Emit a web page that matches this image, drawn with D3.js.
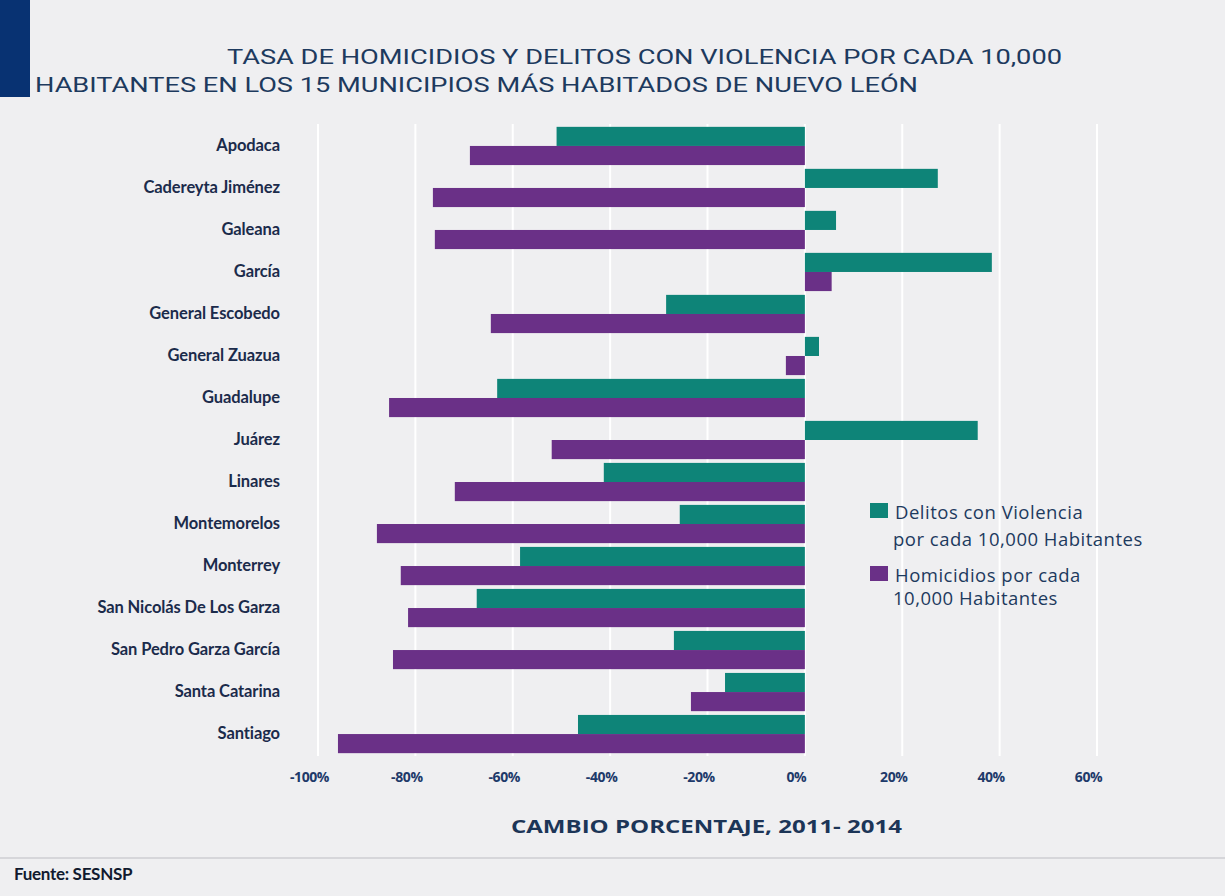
<!DOCTYPE html>
<html><head><meta charset="utf-8">
<script src="https://cdn.jsdelivr.net/npm/d3@7"></script>
<style>
html,body{margin:0;padding:0;background:#efeff1;}
svg{display:block;}
</style></head>
<body>
<svg id="chart" width="1225" height="896"></svg>
<script>
const categories = ["Apodaca","Cadereyta Jiménez","Galeana","García","General Escobedo","General Zuazua","Guadalupe","Juárez","Linares","Montemorelos","Monterrey","San Nicolás De Los Garza","San Pedro Garza García","Santa Catarina","Santiago"];
const delitos = [-51, 27.3, 6.4, 38.4, -28.5, 2.9, -63.2, 35.5, -41.3, -25.7, -58.5, -67.4, -26.9, -16.4, -46.6];
const homicidios = [-68.8, -76.4, -76, 5.5, -64.5, -3.9, -85.4, -52, -71.9, -87.9, -83, -81.5, -84.6, -23.4, -95.9];
const tickValues = [-100, -80, -60, -40, -20, 0, 20, 40, 60];
const titleLines = ["TASA DE HOMICIDIOS Y DELITOS CON VIOLENCIA POR CADA 10,000", "HABITANTES EN LOS 15 MUNICIPIOS MÁS HABITADOS DE NUEVO LEÓN"];
const legendLabels = [["Delitos con Violencia", "por cada 10,000 Habitantes"], ["Homicidios por cada", "10,000  Habitantes"]];
const colors = ["#0e8478", "#6a3087"];

const svg = d3.select("#chart");
svg.append("rect").attr("x",0).attr("y",0).attr("width",1225).attr("height",896).attr("fill","#efeff1");
svg.append("rect").attr("x",0).attr("y",0).attr("width",30).attr("height",97).attr("fill","#083272");

// title
svg.append("text").attr("x",227).attr("y",64).attr("textLength",835).attr("lengthAdjust","spacingAndGlyphs")
  .attr("font-family","Roboto").attr("font-weight",400).attr("font-size",20).attr("fill","#1d3a5e").text(titleLines[0]);
svg.append("text").attr("x",35).attr("y",92).attr("textLength",883).attr("lengthAdjust","spacingAndGlyphs")
  .attr("font-family","Roboto").attr("font-weight",400).attr("font-size",20).attr("fill","#1d3a5e").text(titleLines[1]);

const x = d3.scaleLinear().domain([-100, 60]).range([318, 1097]);
const y = d3.scaleBand().domain(categories).range([126, 754]).paddingInner(0.09).paddingOuter(0.02);

// gridlines
svg.append("g").selectAll("line").data(tickValues).join("line")
  .attr("x1", d => x(d)).attr("x2", d => x(d)).attr("y1",124).attr("y2",756)
  .attr("stroke","#ffffff").attr("stroke-width",2);

// bars
const bh = y.bandwidth()/2;
const g = svg.append("g");
g.selectAll("rect.d").data(categories).join("rect").attr("class","d")
  .attr("x",(c,i)=>x(Math.min(0,delitos[i]))).attr("width",(c,i)=>Math.abs(x(delitos[i])-x(0)))
  .attr("y",c=>y(c)).attr("height",bh).attr("fill",colors[0]);
g.selectAll("rect.h").data(categories).join("rect").attr("class","h")
  .attr("x",(c,i)=>x(Math.min(0,homicidios[i]))).attr("width",(c,i)=>Math.abs(x(homicidios[i])-x(0)))
  .attr("y",c=>y(c)+bh).attr("height",bh).attr("fill",colors[1]);

// y labels
const yAxis = d3.axisLeft(y).tickSize(0).tickPadding(0);
const ya = svg.append("g").attr("transform","translate(280,0)").call(yAxis);
ya.select(".domain").remove();
ya.selectAll("text").attr("font-family","Lato").attr("font-weight",700).attr("font-size",16.5)
  .attr("fill","#1b2b4b").attr("letter-spacing","-0.1").attr("dy","0.32em");

// x ticks
const xAxis = d3.axisBottom(x).tickValues(tickValues).tickSize(0).tickPadding(0).tickFormat(d => d + "%");
const xa = svg.append("g").attr("transform","translate(-9,772)").call(xAxis);
xa.select(".domain").remove();
xa.selectAll("text").attr("font-family","Open Sans").attr("font-weight",700).attr("font-size",14)
  .attr("fill","#1e3a6a").attr("letter-spacing","-0.4");

svg.append("text").attr("x",511).attr("y",833).attr("textLength",391).attr("lengthAdjust","spacingAndGlyphs")
  .attr("font-family","Open Sans").attr("font-weight",700).attr("font-size",18.5)
  .attr("fill","#1c3557").text("CAMBIO PORCENTAJE, 2011- 2014");

// legend
const lg = svg.append("g");
const legY = [503, 566];
const lineY = [[519, 546],[582, 605]];
legendLabels.forEach((lines, i) => {
  lg.append("rect").attr("x",870).attr("y",legY[i]).attr("width",18).attr("height",15).attr("fill",colors[i]);
  lines.forEach((t, j) => {
    lg.append("text").attr("x", j===0 ? 895 : 893).attr("y", lineY[i][j])
      .attr("font-family","Open Sans").attr("font-weight",500).attr("font-size",18.5)
      .attr("letter-spacing","0.5").attr("fill","#1d3a5e").text(t);
  });
});

// footer
svg.append("line").attr("x1",0).attr("x2",1225).attr("y1",858).attr("y2",858).attr("stroke","#d6d6da").attr("stroke-width",2);
svg.append("text").attr("x",14).attr("y",880).attr("font-family","Lato").attr("font-weight",700).attr("font-size",17)
  .attr("letter-spacing","-0.3").attr("fill","#111a2e").text("Fuente: SESNSP");
</script>
</body></html>
